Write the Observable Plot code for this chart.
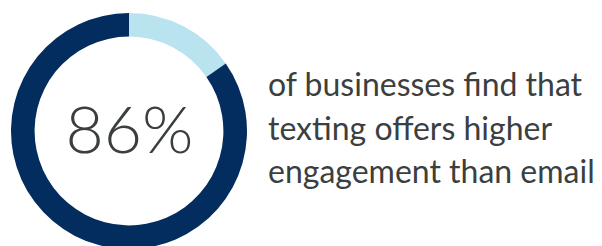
<!DOCTYPE html>
<html><head><meta charset="utf-8">
<script src="https://cdn.jsdelivr.net/npm/d3@7"></script>
<script src="https://cdn.jsdelivr.net/npm/@observablehq/plot@0.6"></script>
<style>
html,body{margin:0;padding:0;background:#fff;overflow:hidden;width:602px;height:246px}
#wrap{position:relative;width:602px;height:246px;overflow:hidden}
#chart{position:absolute;left:0;top:0}
#caption{position:absolute;left:268px;top:62px;font-family:Lato,sans-serif;font-size:32px;line-height:43.5px;color:#3b3f3f;white-space:nowrap}
</style></head><body>
<div id="wrap"><div id="chart"></div><div id="caption"></div></div>
<script>
const categories = ["Other", "Texting offers higher engagement"];
const shares = [15.3, 84.7];
const colors = ["#b9e3ef", "#032c5f"];
const centerLabel = "86%";
const captionLines = ["of businesses find that", "texting offers higher", "engagement than email"];

const table = categories.map((c, i) => ({category: c, share: shares[i], color: colors[i]}));
const arcs = d3.pie().sort(null).value(d => d.share)(table);

const ringMark = (index, scales) => {
  const cx = scales.x(0), cy = scales.y(0);
  const k = scales.x(1) - scales.x(0);
  const arc = d3.arc().innerRadius(0.80 * k).outerRadius(k);
  const g = d3.create("svg:g").attr("transform", `translate(${cx},${cy})`);
  g.selectAll("path").data(arcs).join("path")
    .attr("d", arc)
    .attr("fill", d => d.data.color);
  return g.node();
};

const chart = Plot.plot({
  width: 258,
  height: 262,
  marginLeft: 11, marginRight: 11, marginTop: 13, marginBottom: 13,
  x: {domain: [-1, 1], axis: null},
  y: {domain: [-1, 1], axis: null},
  style: {background: "transparent", overflow: "visible"},
  marks: [
    ringMark,
    Plot.text([centerLabel], {
      x: () => 0, y: () => 0, text: d => d,
      fontSize: 66, fontWeight: 300, fill: "#3a3f3e",
      fontFamily: "Lato, sans-serif"
    })
  ]
});
document.getElementById("chart").append(chart);
document.getElementById("caption").innerHTML = captionLines.map(l => `<div>${l}</div>`).join("");
</script>
</body></html>
